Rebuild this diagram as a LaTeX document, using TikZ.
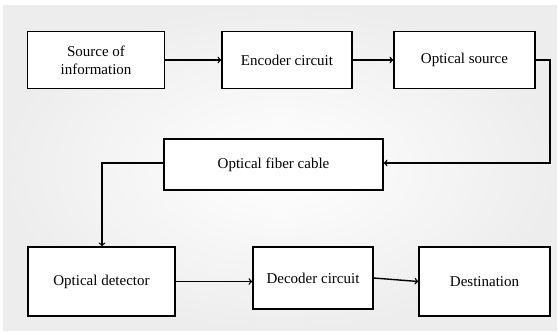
\documentclass[tikz,border=0pt]{standalone}
\usepackage{fontspec}
\setmainfont{Liberation Serif}
\usepackage{xcolor}

\begin{document}
\begin{tikzpicture}[x=1pt,y=-1pt,
blockbox/.style={draw, line width=1.4pt, fill=white, align=center, inner sep=2pt,
  font=\fontsize{15}{18}\selectfont},
link/.style={->, line width=1.4pt}]
\useasboundingbox (0,0) rectangle (559,333);
\shade[inner color=white, outer color=gray!14] (3,5) rectangle (557,330);
\node[blockbox, minimum width=137pt, minimum height=57pt] (src) at (96,60) {Source of\\information};
\node[blockbox, minimum width=130pt, minimum height=57pt] (enc) at (287,60) {Encoder circuit};
\node[blockbox, minimum width=141pt, minimum height=57pt] (osrc) at (464.5,60) {Optical source};
\node[blockbox, minimum width=219pt, minimum height=51pt] (fiber) at (273.5,164.5) {Optical fiber cable};
\node[blockbox, minimum width=147pt, minimum height=69pt] (det) at (101.5,281.5) {Optical detector};
\node[blockbox, minimum width=120pt, minimum height=62pt] (dec) at (313,278) {Decoder circuit};
\node[blockbox, minimum width=131pt, minimum height=69pt] (dest) at (484.5,281.5) {Destination};
\coordinate (rturn) at (550,163);
\coordinate (lturn) at (102,163);
\draw[link] (src) -- (enc);
\draw[link] (enc) -- (osrc);
\draw[link] (osrc.east) -| (rturn) -- (fiber.east |- rturn);
\draw[link] (fiber.west |- lturn) -- (lturn) -- (lturn |- det.north);
\draw[link] (det.east) -- (det.east -| dec.west);
\draw[link] (dec.east) -- (dest.west);
\end{tikzpicture}
\end{document}
